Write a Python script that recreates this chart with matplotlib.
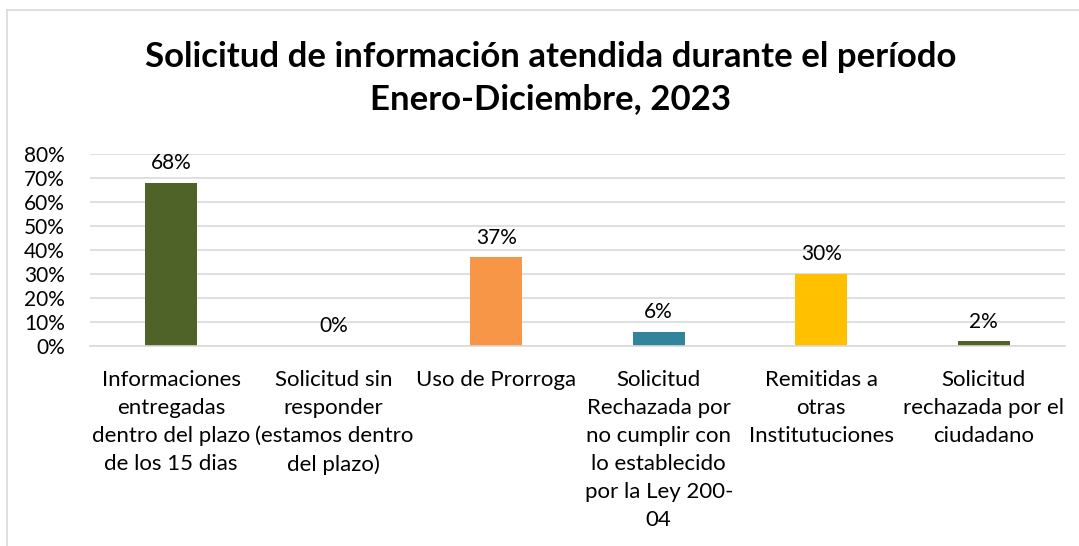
import matplotlib.pyplot as plt
from matplotlib.ticker import PercentFormatter
from matplotlib.lines import Line2D

categories = [
    "Informaciones\nentregadas\ndentro del plazo\nde los 15 dias",
    "Solicitud sin\nresponder\n(estamos dentro\ndel plazo)",
    "Uso de Prorroga",
    "Solicitud\nRechazada por\nno cumplir con\nlo establecido\npor la Ley 200-\n04",
    "Remitidas a\notras\nInstitutuciones",
    "Solicitud\nrechazada por el\nciudadano",
]
values = [0.68, 0.0, 0.37, 0.06, 0.30, 0.02]
colors = ["#4f6228", "#4f6228", "#f79646", "#31849b", "#ffc000", "#4f6228"]
title = "Solicitud de información atendida durante el período\nEnero-Diciembre, 2023"

plt.rcParams['font.family'] = ['Lato', 'DejaVu Sans']

fig = plt.figure(figsize=(10.79, 5.46), dpi=100)
ax = fig.add_axes([0.0834, 0.3663, 0.9036, 0.3517])

x = range(len(values))
bars = ax.bar(x, values, width=0.32, color=colors)
for xi, v in zip(x, values):
    ax.text(xi, v + 0.04, f"{v:.0%}", ha="center", va="bottom", fontsize=15)

ax.set_xlim(-0.5, len(values) - 0.5)
ax.set_ylim(0, 0.8)
ax.set_yticks([i / 10 for i in range(9)])
ax.yaxis.set_major_formatter(PercentFormatter(1.0, decimals=0))
ax.grid(axis="y", color="#d9d9d9", linewidth=1.2)
ax.set_axisbelow(True)
for s in ["top", "right", "left"]:
    ax.spines[s].set_visible(False)
ax.spines["bottom"].set_color("#d9d9d9")
ax.spines["bottom"].set_linewidth(1.2)
ax.tick_params(axis="y", length=0, labelsize=15, pad=18)
ax.tick_params(axis="x", length=0, labelsize=16, pad=17)
ax.set_xticks(list(x))
ax.set_xticklabels(categories, linespacing=1.5)

fig.text(0.51, 0.857, title, ha="center", va="center", fontsize=25,
         fontweight="bold", linespacing=1.42)

# chart frame
fig.add_artist(Line2D([0.0065, 0.0065], [0, 0.982], color="#d9d9d9", lw=1.2))
fig.add_artist(Line2D([0.0065, 1.0], [0.982, 0.982], color="#d9d9d9", lw=1.2))

fig.savefig("out.png", dpi=100)
